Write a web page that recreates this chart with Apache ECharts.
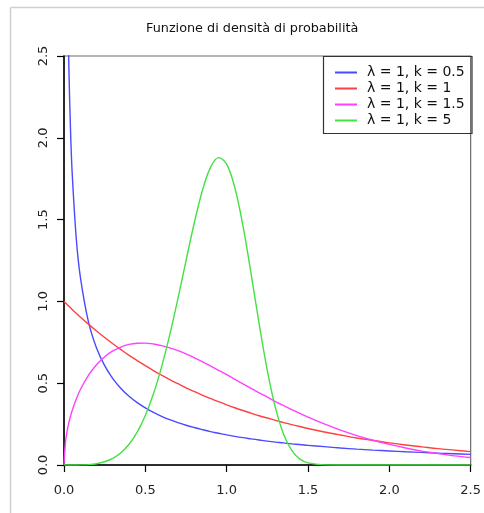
<!DOCTYPE html>
<html>
<head>
<meta charset="utf-8">
<script src="https://cdn.jsdelivr.net/npm/echarts@6/dist/echarts.min.js"></script>
<style>
html,body{margin:0;padding:0;background:#fff;}
#chart{width:484px;height:513px;}
</style>
</head>
<body>
<div id="chart"></div>
<script>
// x positions at which the curves were read
const xValues = [0, 0.01, 0.02, 0.03, 0.04, 0.05, 0.075, 0.1, 0.15, 0.2, 0.25, 0.3, 0.35, 0.4, 0.45, 0.5,
  0.55, 0.6, 0.65, 0.7, 0.75, 0.8, 0.85, 0.9, 0.95, 1.0, 1.05, 1.1, 1.15, 1.2, 1.25, 1.3, 1.35, 1.4, 1.45, 1.5,
  1.6, 1.7, 1.8, 1.9, 2.0, 2.1, 2.2, 2.3, 2.4, 2.5];
// λ = 1, k = 0.5 (blue)
const k05 = [null, 4.52, 3.07, 2.43, 2.05, 1.79, 1.39, 1.153, 0.876, 0.715, 0.607, 0.528, 0.468, 0.420, 0.381, 0.349,
  0.321, 0.297, 0.277, 0.259, 0.243, 0.229, 0.216, 0.204, 0.194, 0.184, 0.175, 0.167, 0.160, 0.153, 0.146, 0.140, 0.135, 0.129, 0.125, 0.120,
  0.112, 0.104, 0.097, 0.091, 0.086, 0.081, 0.077, 0.072, 0.069, 0.065];
// λ = 1, k = 1 (red)
const k1 = [1.0, 0.990, 0.980, 0.970, 0.961, 0.951, 0.928, 0.905, 0.861, 0.819, 0.779, 0.741, 0.705, 0.670, 0.638, 0.607,
  0.577, 0.549, 0.522, 0.497, 0.472, 0.449, 0.427, 0.407, 0.387, 0.368, 0.350, 0.333, 0.317, 0.301, 0.287, 0.273, 0.259, 0.247, 0.235, 0.223,
  0.202, 0.183, 0.165, 0.150, 0.135, 0.122, 0.111, 0.100, 0.091, 0.082];
// λ = 1, k = 1.5 (magenta)
const k15 = [0, 0.150, 0.212, 0.259, 0.298, 0.332, 0.402, 0.460, 0.548, 0.613, 0.662, 0.697, 0.721, 0.737, 0.744, 0.745,
  0.740, 0.730, 0.716, 0.699, 0.679, 0.656, 0.632, 0.606, 0.579, 0.552, 0.524, 0.496, 0.469, 0.441, 0.415, 0.388, 0.363, 0.339, 0.315, 0.293,
  0.251, 0.213, 0.180, 0.151, 0.126, 0.104, 0.085, 0.070, 0.056, 0.046];
// λ = 1, k = 5 (green)
const k5 = [0, 0, 0, 0, 0, 0, 0.0002, 0.0005, 0.0025, 0.008, 0.020, 0.040, 0.075, 0.127, 0.201, 0.303,
  0.435, 0.600, 0.795, 1.015, 1.248, 1.476, 1.675, 1.818, 1.879, 1.839, 1.696, 1.463, 1.170, 0.861, 0.577, 0.349, 0.188, 0.089, 0.036, 0.013,
  0.001, 0, 0, 0, 0, 0, 0, 0, 0, 0];
const seriesNames = ['λ = 1, k = 0.5', 'λ = 1, k = 1', 'λ = 1, k = 1.5', 'λ = 1, k = 5'];
const seriesColors = ['#4a4aff', '#ff4040', '#ff40ff', '#44e044'];
const xTicks = [0, 0.5, 1.0, 1.5, 2.0, 2.5];
const yTicks = [0, 0.5, 1.0, 1.5, 2.0, 2.5];
const titleText = 'Funzione di densità di probabilità';

const allY = [k05, k1, k15, k5];
const chart = echarts.init(document.getElementById('chart'), null, {renderer: 'canvas'});
const FONT = 'DejaVu Sans';

const option = {
  animation: false,
  backgroundColor: '#ffffff',
  title: {
    text: titleText,
    left: 146, top: 22, padding: 0,
    textStyle: {fontFamily: FONT, fontSize: 12.8, fontWeight: 'normal', color: '#111'}
  },
  grid: {left: 64, top: 56, right: 12, bottom: 48, show: true, borderColor: '#6a6a6a', borderWidth: 1.2, backgroundColor: 'transparent'},
  legend: {
    orient: 'vertical', left: 335, top: 65.5, padding: 0,
    itemWidth: 22, itemHeight: 2, itemGap: 2,
    icon: 'rect',
    data: seriesNames,
    textStyle: {fontFamily: FONT, fontSize: 14, color: '#111', lineHeight: 13.3, padding: [0, 0, 0, 5]}
  },
  xAxis: {
    type: 'value', min: 0, max: 2.5, interval: 0.5,
    axisLine: {show: true, onZero: false, lineStyle: {color: '#000', width: 1.5}},
    axisTick: {show: true, length: 7, lineStyle: {color: '#000', width: 1.2}},
    axisLabel: {margin: 19, fontFamily: FONT, fontSize: 13, color: '#222',
      formatter: v => xTicks.includes(v) ? v.toFixed(1) : ''},
    splitLine: {show: false}
  },
  yAxis: {
    type: 'value', min: 0, max: 2.5, interval: 0.5,
    axisLine: {show: true, onZero: false, lineStyle: {color: '#000', width: 1.5}},
    axisTick: {show: true, length: 7, lineStyle: {color: '#000', width: 1.2}},
    axisLabel: {margin: 27, rotate: 90, align: 'center', verticalAlign: 'top', fontFamily: FONT, fontSize: 13, color: '#222',
      formatter: v => yTicks.includes(v) ? v.toFixed(1) : ''},
    splitLine: {show: false}
  },
  graphic: [
    {type: 'line', silent: true, shape: {x1: 10.5, y1: 7.5, x2: 484, y2: 7.5}, style: {stroke: '#cfcfcf', lineWidth: 1.5}},
    {type: 'line', silent: true, shape: {x1: 10.5, y1: 7.5, x2: 10.5, y2: 513}, style: {stroke: '#cfcfcf', lineWidth: 1.5}},
    {type: 'rect', silent: true, z: 10, shape: {x: 323.5, y: 56.5, width: 148.5, height: 77}, style: {fill: 'transparent', stroke: '#333', lineWidth: 1.2}}
  ],
  series: seriesNames.map((name, i) => ({
    name: name,
    type: 'line',
    clip: true,
    showSymbol: false,
    symbol: 'none',
    smooth: 0.35,
    color: seriesColors[i],
    lineStyle: {width: 1.4, color: seriesColors[i]},
    data: xValues.map((x, j) => [x, allY[i][j]]).filter(p => p[1] !== null)
  }))
};
chart.setOption(option);
</script>
</body>
</html>
